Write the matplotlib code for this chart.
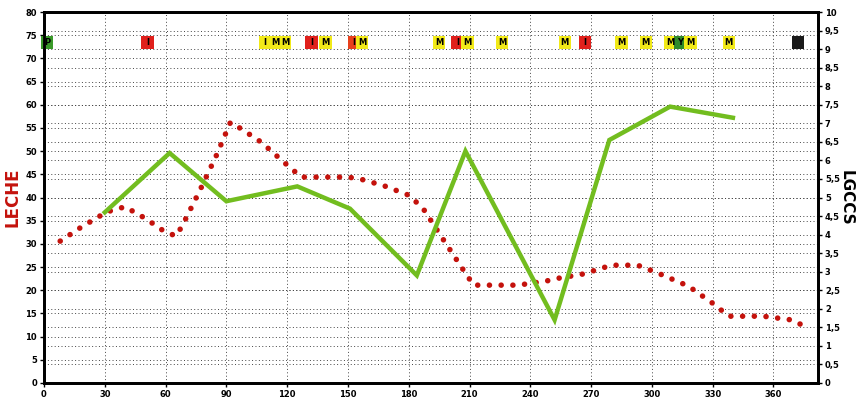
import matplotlib.pyplot as plt
from matplotlib.ticker import MultipleLocator, FuncFormatter

# Datos
leche_dias = [8, 18, 31, 40, 50, 59, 65, 68, 77, 85, 92, 97, 107, 120, 127, 140, 150, 156,
              168, 180, 187, 195, 206, 212, 222, 234, 248, 254, 266, 280, 293, 303, 318,
              330, 338, 346, 355, 369, 376]
leche = [30.6, 33.5, 36.9, 38, 35.5, 32.8, 31.7, 33.7, 41.6, 49, 56.2, 54.9, 52, 47,
         44.4, 44.4, 44.4, 44, 42.5, 40.5, 37.7, 32.3, 25, 21.1, 21.1, 21.1, 22, 22.6,
         23.5, 25.4, 25.4, 23.7, 20.9, 17.2, 14.4, 14.4, 14.4, 13.6, 12.1]

lgccs_dias = [30, 62, 90, 125, 151, 184, 208, 252, 279, 309, 340]
lgccs = [4.6, 6.2, 4.9, 5.3, 4.7, 2.9, 6.25, 1.7, 6.55, 7.45, 7.15]

eventos_dias = [1.5, 51, 109, 114, 119, 132, 139, 153, 157, 195, 204, 209, 226, 257,
                267, 285, 297, 309, 314, 319, 338, 372]
eventos_txt = ['P', 'I', 'I', 'M', 'M', 'I', 'M', 'I', 'M', 'M', 'I', 'M', 'M', 'M',
               'I', 'M', 'M', 'M', 'Y', 'M', 'M', '']
eventos_col = ['#3a9a2a', '#e0201c', '#f2ea18', '#f2ea18', '#f2ea18', '#e0201c',
               '#f2ea18', '#e8401c', '#f2ea18', '#f2ea18', '#e0201c', '#f2ea18',
               '#f2ea18', '#f2ea18', '#e0201c', '#f2ea18', '#f2ea18', '#f2ea18',
               '#2f8a2a', '#f2ea18', '#f2ea18', '#1a1a1a']
evento_nivel = 73.4

fig = plt.figure(figsize=(8.66, 4.01), dpi=100)
ax = fig.add_axes([0.0508, 0.0449, 0.8938, 0.9251])
ax2 = ax.twinx()

# Rejilla
for v in range(0, 81, 5):
    ax.axhline(v, color='#444444', lw=0.7, ls=(0, (1, 2.5)), zorder=0)
for v in range(0, 81, 4):
    ax.axhline(v, color='#444444', lw=0.7, ls=(0, (1, 2.5)), zorder=0)
for v in range(30, 381, 30):
    ax.axvline(v, color='#444444', lw=0.7, ls=(0, (1, 2.5)), zorder=0)

# Leche (puntos rojos)
ax.plot(leche_dias, leche, color='#c4120c', lw=4.0, ls=(0, (0.01, 2.1)),
        dash_capstyle='round', zorder=3)

# Eventos
ax.scatter(eventos_dias, [evento_nivel] * len(eventos_dias), marker='s', s=80,
           c=eventos_col, edgecolors='none', zorder=4, clip_on=False)
for d, t in zip(eventos_dias, eventos_txt):
    ax.text(d, evento_nivel, t, ha='center', va='center', fontsize=6,
            fontweight='bold', color='black', zorder=5)

# LGCCS (linea verde)
ax2.plot(lgccs_dias, lgccs, color='#72bd1f', lw=3.2, solid_joinstyle='miter')

ax.set_xlim(0, 382)
ax.set_ylim(0, 80)
ax2.set_ylim(0, 10)
ax.xaxis.set_major_locator(MultipleLocator(30))
ax.yaxis.set_major_locator(MultipleLocator(5))
ax2.yaxis.set_major_locator(MultipleLocator(0.5))
ax2.yaxis.set_major_formatter(FuncFormatter(lambda v, p: ('%g' % v).replace('.', ',')))

for a in (ax, ax2):
    for s in a.spines.values():
        s.set_linewidth(2)
        s.set_color('black')
    a.tick_params(labelsize=6, length=3, width=1, pad=2)
for lab in ax.get_xticklabels() + ax.get_yticklabels() + ax2.get_yticklabels():
    lab.set_fontweight('bold')

ax.set_ylabel('LECHE', color='#c4120c', fontsize=12, fontweight='bold')
ax.yaxis.set_label_coords(-0.029, 0.5)
ax2.set_ylabel('LGCCS', color='black', fontsize=11, fontweight='bold', rotation=270)
ax2.yaxis.set_label_coords(1.046, 0.5)

plt.savefig('out.png', dpi=100)
